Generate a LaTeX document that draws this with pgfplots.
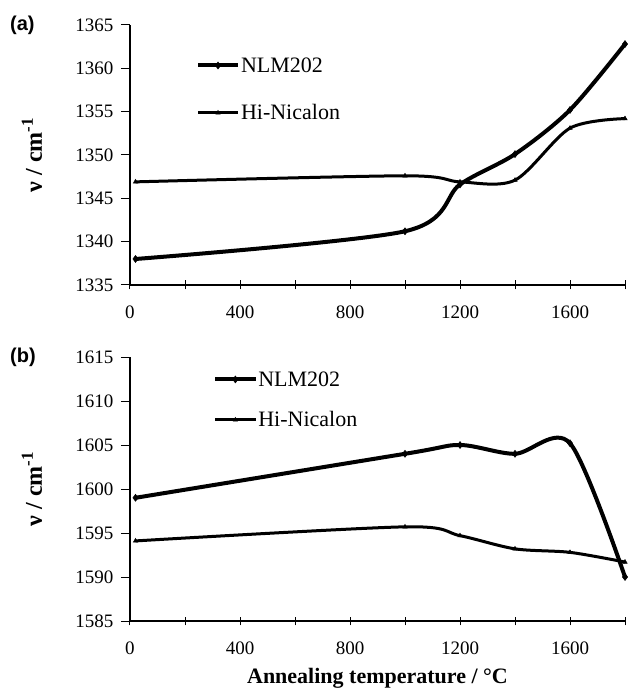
\documentclass[border=0pt]{standalone}
\usepackage{fontspec}
\setmainfont{Liberation Serif}
\newfontfamily\arialfont{Liberation Sans}
\usepackage{pgfplots}
\pgfplotsset{compat=1.18}

\pgfplotstableread{
x y
20 1338
1000 1341.2
1200 1346.6
1400 1350.1
1600 1355.2
1800 1362.8
}\aNLM
\pgfplotstableread{
x y
20 1346.9
1000 1347.6
1200 1346.9
1400 1347.1
1600 1353.1
1800 1354.2
}\aHi
\pgfplotstableread{
x y
20 1599
1000 1604
1200 1605
1400 1604
1600 1605.2
1800 1590
}\bNLM
\pgfplotstableread{
x y
20 1594.1
1000 1595.7
1200 1594.7
1400 1593.2
1600 1592.8
1800 1591.7
}\bHi

\begin{document}
\begin{tikzpicture}[x=1pt,y=1pt]
\path[use as bounding box] (0,0) rectangle (627,691);
\pgfplotsset{
  myaxis/.style={
    scale only axis, width=495pt,
    axis lines=left, axis line style={line width=1.3pt,-},
    xmin=0, xmax=1800,
    xtick={0,400,...,1600}, minor xtick={200,600,1000,1400,1800},
    major tick length=9pt, minor tick length=9pt,
    every tick/.style={line width=1pt,black},
    every minor tick/.style={line width=0.8pt,black},
    xtick align=center, ytick align=outside,
    tick label style={font=\fontsize{19}{20}\selectfont},
    xticklabel style={yshift=-13pt},
    yticklabel style={xshift=-4pt},
    /pgf/number format/assume math mode=true,
    /pgf/number format/1000 sep={},
    clip=false,
    legend cell align=left,
    legend style={draw=none, fill=none, inner sep=0pt,
      font=\fontsize{22}{24}\selectfont,
      nodes={inner sep=1pt}},
    legend image code/.code={\draw[mark repeat=2,mark phase=2,##1] plot coordinates {(0pt,0pt) (20pt,0pt) (40pt,0pt)};},
    ylabel style={at={(axis description cs:-0.198,0.5)}, anchor=center, font=\fontsize{24}{26}\selectfont\bfseries},
    xlabel style={font=\fontsize{22}{24}\selectfont\bfseries},
  },
  nlm/.style={black, smooth, line width=4pt, mark=diamond*, mark size=3.5pt, mark options={line width=0.5pt}},
  hin/.style={black, smooth, line width=3pt, mark=triangle*, mark size=2.5pt, mark options={line width=0.5pt}},
}
\begin{axis}[myaxis, height=260pt, at={(130pt,406pt)}, anchor=south west,
  ymin=1335, ymax=1365, ytick={1335,1340,...,1365},
  ylabel={ν / cm\textsuperscript{-1}},
  legend style={at={(axis description cs:0.133,0.88)}, anchor=north west, row sep=29pt}]
\addplot[nlm] table {\aNLM};
\addlegendentry{NLM202}
\addplot[hin] table {\aHi};
\addlegendentry{Hi-Nicalon}
\end{axis}
\begin{axis}[myaxis, height=264pt, at={(130pt,70pt)}, anchor=south west,
  ymin=1585, ymax=1615, ytick={1585,1590,...,1615},
  ylabel={ν / cm\textsuperscript{-1}},
  xlabel={Annealing temperature / °C},
  xlabel style={at={(axis description cs:0.5,0)}, anchor=base, yshift=-62pt},
  legend style={at={(axis description cs:0.168,0.95)}, anchor=north west, row sep=22pt}]
\addplot[nlm] table {\bNLM};
\addlegendentry{NLM202}
\addplot[hin] table {\bHi};
\addlegendentry{Hi-Nicalon}
\end{axis}
\node[anchor=west, font=\arialfont\bfseries\fontsize{20}{22}\selectfont, inner sep=0pt] at (10,666) {(a)};
\node[anchor=west, font=\arialfont\bfseries\fontsize{20}{22}\selectfont, inner sep=0pt] at (10,334) {(b)};
\end{tikzpicture}
\end{document}
